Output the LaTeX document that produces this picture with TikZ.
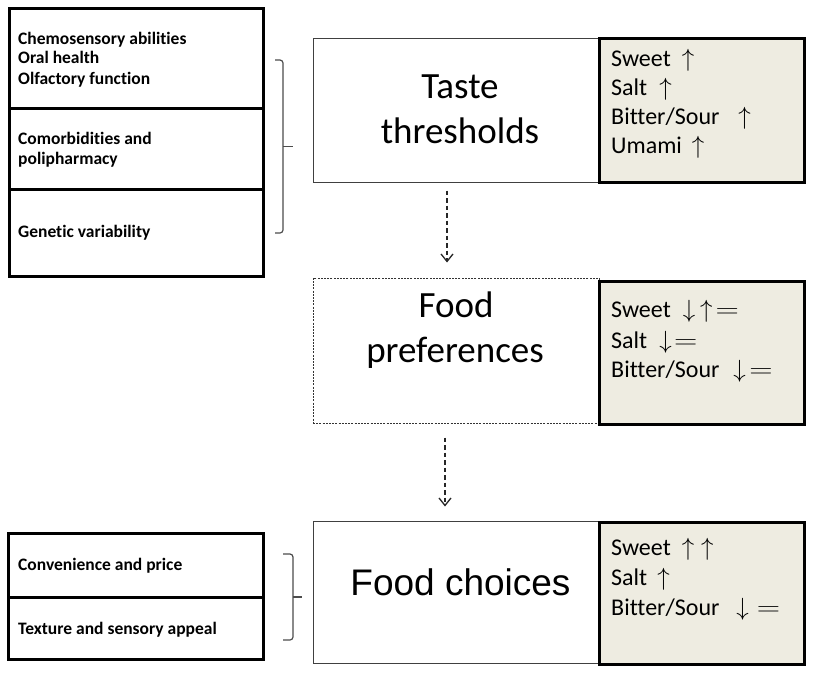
\documentclass[tikz,border=0pt]{standalone}
\usepackage[no-math]{fontspec}
\setmainfont{Carlito}[Ligatures=NoCommon]
\newfontfamily\arialfont{Liberation Sans}
\usepackage{graphicx}
\usetikzlibrary{arrows.meta}
\definecolor{shade}{HTML}{EEECE1}
\newcommand\eqsym{\scalebox{1.3}[1]{$=$}}
\begin{document}
\begin{tikzpicture}[x=1pt,y=-1pt,
  stackbox/.style={draw=black, line width=3pt, minimum width=254pt, inner sep=0pt},
  mainbox/.style={draw=black!75, line width=1pt, minimum width=286pt, inner sep=0pt},
  prefbox/.style={draw=black!80, line width=1pt, dash pattern=on 2pt off 1.2pt, minimum width=286pt, inner sep=0pt},
  shadebox/.style={draw=black, line width=3pt, fill=shade, minimum width=205pt, inner sep=0pt},
  smalltext/.style={font=\fontsize{17.5}{20}\selectfont\bfseries, inner sep=0pt, anchor=base west},
  bigtext/.style={font=\fontsize{37}{44}\selectfont, inner sep=0pt, anchor=base},
  shadetext/.style={font=\fontsize{24}{29}\selectfont, inner sep=0pt, anchor=base west},
  dasharrow/.style={draw=black!85, line width=1.3pt, dash pattern=on 4.5pt off 3pt, -{Straight Barb[length=7.5pt,width=12pt,line width=1.3pt]}},
  bracket/.style={draw=black!70, line width=1.2pt, rounded corners=3pt}]
\useasboundingbox (0,0) rectangle (813,672);

% left stack (top)
\node[stackbox, minimum height=100pt] (lA) at (136,58) {};
\node[stackbox, minimum height=81pt] (lB) at (136,148.5) {};
\node[stackbox, minimum height=87pt] (lC) at (136,232.5) {};
\node[smalltext] (lA1) at (18,44) {Chemosensory abilities};
\node[smalltext] (lA2) at (18,63.5) {Oral health};
\node[smalltext] (lA3) at (18,84) {Olfactory function};
\node[smalltext] (lB1) at (18,144) {Comorbidities and};
\node[smalltext] (lB2) at (18,164) {polipharmacy};
\node[smalltext] (lC1) at (18,237) {Genetic variability};

% bracket top
\coordinate (b1t) at (275,60);
\coordinate (b1b) at (275,233);
\draw[bracket] (b1t) -- (283,60) -- (283,233) -- (b1b);
\draw[bracket] (283,146.5) -- (293,146.5);

% left stack (bottom)
\node[stackbox, minimum width=255pt, minimum height=64pt] (lD) at (135.5,565) {};
\node[stackbox, minimum width=255pt, minimum height=62pt] (lE) at (135.5,628) {};
\node[smalltext] (lD1) at (18,570) {Convenience and price};
\node[smalltext] (lE1) at (18,634) {Texture and sensory appeal};

% bracket bottom
\coordinate (b2t) at (283,554);
\coordinate (b2b) at (283,640);
\draw[bracket] (b2t) -- (293,554) -- (293,640) -- (b2b);
\draw[bracket] (293,597) -- (302,597);

% main boxes
\node[mainbox, minimum height=144pt] (taste) at (456,110) {};
\node[prefbox, minimum height=145pt] (pref) at (456,350.5) {};
\node[mainbox, minimum height=142pt] (choice) at (456,592) {};

\node[bigtext] (taste1) at (460,98) {Taste};
\node[bigtext] (taste2) at (460,143) {thresholds};
\node[bigtext] (pref1) at (456,317) {Food};
\node[bigtext] (pref2) at (455,362) {preferences};
\node[bigtext, font=\fontsize{37}{44}\selectfont\arialfont] (choice1) at (460.5,595) {Food choices};

% shaded boxes
\node[shadebox, minimum height=144pt] (tshade) at (701.5,110) {};
\node[shadebox, minimum height=143pt] (pshade) at (701.5,352.5) {};
\node[shadebox, minimum height=142pt] (cshade) at (701.5,593) {};

\node[shadetext] (ts1) at (611,66) {Sweet\hspace{11pt}$\uparrow$};
\node[shadetext] (ts2) at (611,95) {Salt\hspace{12pt}$\uparrow$};
\node[shadetext] (ts3) at (611,124) {Bitter/Sour\hspace{19pt}$\uparrow$};
\node[shadetext] (ts4) at (611,153) {Umami\hspace{10pt}$\uparrow$};

\node[shadetext] (ps1) at (611,317) {Sweet\hspace{12pt}$\downarrow$\hspace{5pt}$\uparrow$\hspace{3pt}\eqsym};
\node[shadetext] (ps2) at (611,348) {Salt\hspace{12pt}$\downarrow$\hspace{2.5pt}\eqsym};
\node[shadetext] (ps3) at (611,377) {Bitter/Sour\hspace{14pt}$\downarrow$\hspace{3.5pt}\eqsym};

\node[shadetext] (cs1) at (611,555) {Sweet\hspace{11pt}$\uparrow$\hspace{7pt}$\uparrow$};
\node[shadetext] (cs2) at (611,585) {Salt\hspace{10pt}$\uparrow$};
\node[shadetext] (cs3) at (611,615) {Bitter/Sour\hspace{17pt}$\downarrow$\hspace{8pt}\eqsym};

% arrows
\draw[dasharrow] ([xshift=-9pt,yshift=-8pt]taste.south) -- ([xshift=-9pt,yshift=15pt]pref.north);
\draw[dasharrow] ([xshift=-11pt,yshift=-14pt]pref.south) -- ([xshift=-11pt,yshift=14pt]choice.north);
\end{tikzpicture}
\end{document}
